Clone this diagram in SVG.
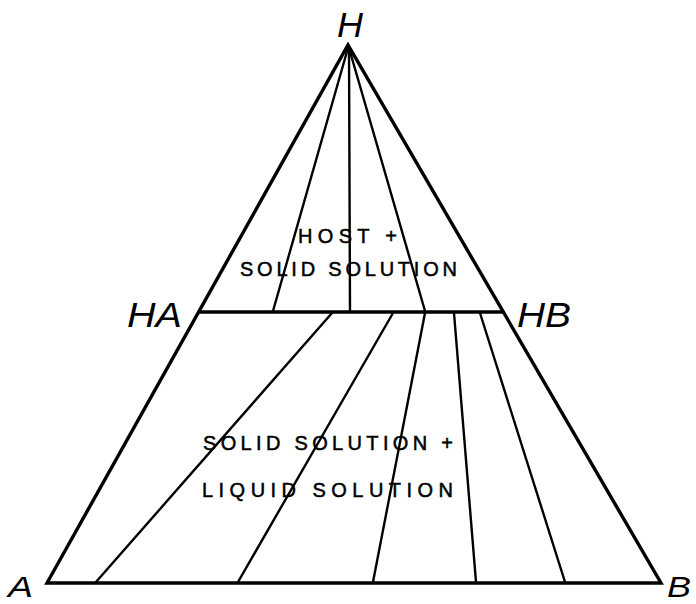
<svg xmlns="http://www.w3.org/2000/svg" width="696" height="604" viewBox="0 0 696 604">
<style>
.edge{stroke:#000;stroke-width:3.4;fill:none;stroke-linejoin:miter;stroke-linecap:round}
.tie{stroke:#000;stroke-width:2.4;fill:none;stroke-linecap:round}
.lbl{font-family:"Liberation Sans",Arial,sans-serif;font-style:italic;font-size:35px;fill:#000}
.corner{font-size:30px}
.txt{font-family:"Liberation Sans",Arial,sans-serif;font-size:20px;fill:#000;stroke:#000;stroke-width:0.5}
</style>
<rect width="696" height="604" fill="#fff"/>
<g id="triangle">
<path class="edge" d="M47,583 L348,45 L661,583 Z"/>
<line class="edge" x1="199" y1="312" x2="503" y2="312"/>
</g>
<g id="tie-lines">
<line class="tie" x1="348" y1="48" x2="273" y2="311"/>
<line class="tie" x1="349" y1="48" x2="350" y2="311"/>
<line class="tie" x1="349" y1="48" x2="425" y2="311"/>
<line class="tie" x1="332" y1="313" x2="96" y2="582"/>
<line class="tie" x1="393" y1="313" x2="238" y2="582"/>
<line class="tie" x1="425" y1="313" x2="373" y2="582"/>
<line class="tie" x1="454" y1="313" x2="476" y2="582"/>
<line class="tie" x1="480" y1="313" x2="565" y2="582"/>
</g>
<g id="labels">
<text class="lbl" x="337" y="37" textLength="26" lengthAdjust="spacingAndGlyphs">H</text>
<text class="lbl" x="127" y="327" textLength="55" lengthAdjust="spacingAndGlyphs">HA</text>
<text class="lbl" x="517" y="327" textLength="54" lengthAdjust="spacingAndGlyphs">HB</text>
<text class="lbl corner" x="8" y="597" textLength="25" lengthAdjust="spacingAndGlyphs">A</text>
<text class="lbl corner" x="667" y="597" textLength="24" lengthAdjust="spacingAndGlyphs">B</text>
</g>
<g id="region-upper">
<text class="txt" x="298" y="243" textLength="99" lengthAdjust="spacing">HOST +</text>
<text class="txt" x="240" y="276" textLength="217" lengthAdjust="spacing">SOLID SOLUTION</text>
</g>
<g id="region-lower">
<text class="txt" x="203" y="450" textLength="250" lengthAdjust="spacing">SOLID SOLUTION +</text>
<text class="txt" x="202" y="497" textLength="251" lengthAdjust="spacing">LIQUID SOLUTION</text>
</g>
</svg>
